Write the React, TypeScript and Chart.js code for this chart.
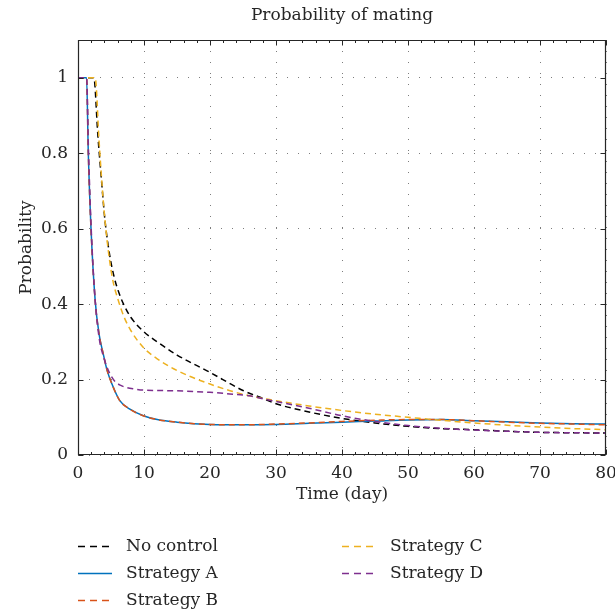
import React, { useEffect, useRef } from 'react';
import { Chart, registerables } from 'chart.js';

Chart.register(...registerables);

const FONT = '"DejaVu Serif", "Liberation Serif", serif';
const INK = '#262626';

// ---- data ----
const seriesNames = ['No control', 'Strategy A', 'Strategy B', 'Strategy C', 'Strategy D'];
const seriesColors = ['#000000', '#0072BD', '#D95319', '#EDB120', '#7E2F8E'];
const seriesDashed = [true, false, true, true, true];

const noControlT = [0, 2.4, 3.0, 3.5, 4.1, 4.8, 5.5, 6.2, 6.9, 8, 9.9, 12, 15, 20, 25, 27.6, 30, 35, 40, 45, 50, 55, 60, 65, 70, 75, 80];
const noControlP = [1, 1, 0.85, 0.74, 0.62, 0.53, 0.47, 0.43, 0.4, 0.365, 0.328, 0.3, 0.265, 0.219, 0.171, 0.153, 0.136, 0.114, 0.097, 0.085, 0.076, 0.07, 0.067, 0.063, 0.06, 0.059, 0.058];

const strategyAT = [0, 1.3, 1.56, 1.97, 2.6, 3.2, 3.8, 4.4, 5.1, 6.3, 8, 9.9, 12, 15, 20, 25, 30, 35, 40, 45, 50, 55, 60, 65, 70, 75, 80];
const strategyAP = [1, 1, 0.8, 0.6, 0.41, 0.32, 0.27, 0.225, 0.19, 0.145, 0.12, 0.104, 0.094, 0.087, 0.081, 0.08, 0.081, 0.084, 0.087, 0.09, 0.093, 0.094, 0.091, 0.088, 0.085, 0.083, 0.082];

const strategyBT = [0, 1.3, 1.56, 1.97, 2.6, 3.2, 3.8, 4.4, 5.1, 6.3, 8, 9.9, 12, 15, 20, 25, 30, 35, 40, 45, 50, 55, 60, 65, 70, 75, 80];
const strategyBP = [1, 1, 0.8, 0.6, 0.41, 0.32, 0.27, 0.225, 0.19, 0.145, 0.12, 0.104, 0.094, 0.087, 0.081, 0.08, 0.082, 0.085, 0.089, 0.092, 0.094, 0.094, 0.091, 0.087, 0.084, 0.082, 0.08];

const strategyCT = [0, 2.6, 3.2, 3.8, 4.4, 5.2, 6.1, 7, 8, 9.9, 12, 15, 20, 25, 30, 35, 40, 45, 50, 55, 60, 65, 70, 75, 80];
const strategyCP = [1, 1, 0.83, 0.68, 0.57, 0.47, 0.41, 0.365, 0.33, 0.285, 0.255, 0.224, 0.188, 0.161, 0.144, 0.13, 0.118, 0.108, 0.1, 0.092, 0.085, 0.079, 0.074, 0.07, 0.067];

const strategyDT = [0, 1.3, 1.6, 2.0, 2.6, 3.3, 3.8, 4.35, 5.0, 5.6, 6.4, 7.3, 8.5, 9.9, 12, 15, 18, 20, 23, 26, 28, 30, 35, 40, 45, 50, 55, 60, 65, 70, 75, 80];
const strategyDP = [1, 1, 0.8, 0.6, 0.41, 0.3, 0.265, 0.235, 0.21, 0.195, 0.185, 0.179, 0.175, 0.172, 0.171, 0.17, 0.168, 0.166, 0.162, 0.157, 0.149, 0.142, 0.124, 0.104, 0.089, 0.078, 0.071, 0.066, 0.063, 0.06, 0.059, 0.058];

const seriesT = [noControlT, strategyAT, strategyBT, strategyCT, strategyDT];
const seriesP = [noControlP, strategyAP, strategyBP, strategyCP, strategyDP];

const xTicks = [0, 10, 20, 30, 40, 50, 60, 70, 80];
const yTicks = [0, 0.2, 0.4, 0.6, 0.8, 1];
const yTickLabels = ['0', '0.2', '0.4', '0.6', '0.8', '1'];
const xMinorStep = 2;

const titleText = 'Probability of mating';
const xTitle = 'Time (day)';
const yTitle = 'Probability';

// legend layout: column-major, two columns
const legendColumns = [[0, 1, 2], [3, 4]];

const framePlugin = {
  id: 'frame',
  afterDatasetsDraw(chart: any) {
    const { ctx, chartArea: a, scales } = chart;
    const xs = scales.x;
    const ys = scales.y;
    const L = Math.round(a.left) + 0.5;
    const R = Math.round(a.right) - 0.5;
    const T = Math.round(a.top) + 0.5;
    const B = Math.round(a.bottom) - 0.5;
    ctx.save();
    ctx.setLineDash([]);
    ctx.strokeStyle = INK;
    ctx.lineWidth = 1.2;
    ctx.beginPath();
    ctx.rect(L, T, R - L, B - T);
    ctx.stroke();
    ctx.lineWidth = 1;
    ctx.beginPath();
    const maj = 5;
    const min = 2.5;
    xTicks.forEach((v) => {
      const px = Math.round(xs.getPixelForValue(v)) + 0.5;
      ctx.moveTo(px, B); ctx.lineTo(px, B - maj);
      ctx.moveTo(px, T); ctx.lineTo(px, T + maj);
    });
    for (let v = xs.min; v <= xs.max; v += xMinorStep) {
      const px = Math.round(xs.getPixelForValue(v)) + 0.5;
      ctx.moveTo(px, B); ctx.lineTo(px, B - min);
      ctx.moveTo(px, T); ctx.lineTo(px, T + min);
    }
    yTicks.forEach((v) => {
      const py = Math.round(ys.getPixelForValue(v)) + 0.5;
      ctx.moveTo(L, py); ctx.lineTo(L + maj, py);
      ctx.moveTo(R, py); ctx.lineTo(R - maj, py);
    });
    ctx.stroke();
    ctx.restore();
  },
  afterDraw(chart: any) {
    const { ctx, chartArea: a } = chart;
    const colX = [a.left, a.left + 264];
    const rowY0 = a.bottom + 91;
    const rowH = 27;
    const sampleW = 34;
    const textGap = 14;
    ctx.save();
    ctx.font = '17px ' + FONT;
    ctx.textBaseline = 'middle';
    ctx.textAlign = 'left';
    legendColumns.forEach((col, ci) => {
      col.forEach((si, ri) => {
        const y = Math.round(rowY0 + ri * rowH) + 0.5;
        const x0 = colX[ci];
        ctx.beginPath();
        ctx.strokeStyle = seriesColors[si];
        ctx.lineWidth = 1.5;
        ctx.setLineDash(seriesDashed[si] ? [7, 5] : []);
        ctx.moveTo(x0, y);
        ctx.lineTo(x0 + sampleW, y);
        ctx.stroke();
        ctx.setLineDash([]);
        ctx.fillStyle = INK;
        ctx.fillText(seriesNames[si], x0 + sampleW + textGap, y);
      });
    });
    ctx.restore();
  },
};

export default function App() {
  const ref = useRef<HTMLCanvasElement | null>(null);
  useEffect(() => {
    document.body.style.margin = '0';
    const canvas = ref.current;
    if (!canvas) return;
    const datasets = seriesNames.map((name, i) => ({
      label: name,
      data: seriesT[i].map((t, k) => ({ x: t, y: seriesP[i][k] })),
      borderColor: seriesColors[i],
      backgroundColor: seriesColors[i],
      borderWidth: 1.5,
      borderDash: seriesDashed[i] ? [6, 4] : [],
      pointRadius: 0,
      cubicInterpolationMode: 'monotone' as const,
      fill: false,
      order: seriesNames.length - 1 - i,
    }));
    const chart = new Chart(canvas, {
      type: 'line',
      data: { datasets },
      plugins: [framePlugin],
      options: {
        responsive: false,
        animation: false,
        layout: { padding: { left: 0, right: 9, top: 0, bottom: 94 } },
        plugins: {
          legend: { display: false },
          tooltip: { enabled: false },
          title: {
            display: true,
            text: titleText,
            fullSize: false,
            color: INK,
            font: { family: FONT, size: 17, weight: 'normal' },
            padding: { top: 5, bottom: 14.6 },
          },
        },
        scales: {
          x: {
            type: 'linear',
            min: 0,
            max: 80,
            afterBuildTicks: (s: any) => { s.ticks = xTicks.map((v) => ({ value: v })); },
            afterFit: (s: any) => { s.height = 65; s.paddingLeft = 0; s.paddingRight = 0; },
            grid: { color: 'rgba(38,38,38,0.6)', lineWidth: 1, drawTicks: false },
            border: { display: false, dash: [1, 10] },
            ticks: {
              color: INK,
              padding: 8,
              maxRotation: 0,
              autoSkip: false,
              font: { family: FONT, size: 17 },
              callback: (v: any) => String(v),
            },
            title: {
              display: true,
              text: xTitle,
              color: INK,
              font: { family: FONT, size: 17 },
              padding: { top: 0, bottom: 15 },
            },
          },
          y: {
            type: 'linear',
            min: 0,
            max: 1.1,
            afterBuildTicks: (s: any) => { s.ticks = yTicks.map((v) => ({ value: v })); },
            afterFit: (s: any) => { s.width = 78; s.paddingTop = 0; s.paddingBottom = 0; },
            grid: { color: 'rgba(38,38,38,0.6)', lineWidth: 1, drawTicks: false },
            border: { display: false, dash: [1, 10] },
            ticks: {
              color: INK,
              padding: 10,
              autoSkip: false,
              font: { family: FONT, size: 17 },
              callback: (v: any) => {
                const idx = yTicks.indexOf(Number(v));
                return idx >= 0 ? yTickLabels[idx] : String(v);
              },
            },
            title: {
              display: true,
              text: yTitle,
              color: INK,
              font: { family: FONT, size: 17 },
              padding: { top: 16, bottom: 0 },
            },
          },
        },
      },
    });
    return () => chart.destroy();
  }, []);
  return (
    <div style={{ width: 615, height: 614, background: '#fff' }}>
      <canvas ref={ref} width={615} height={614} style={{ display: 'block' }} />
    </div>
  );
}
